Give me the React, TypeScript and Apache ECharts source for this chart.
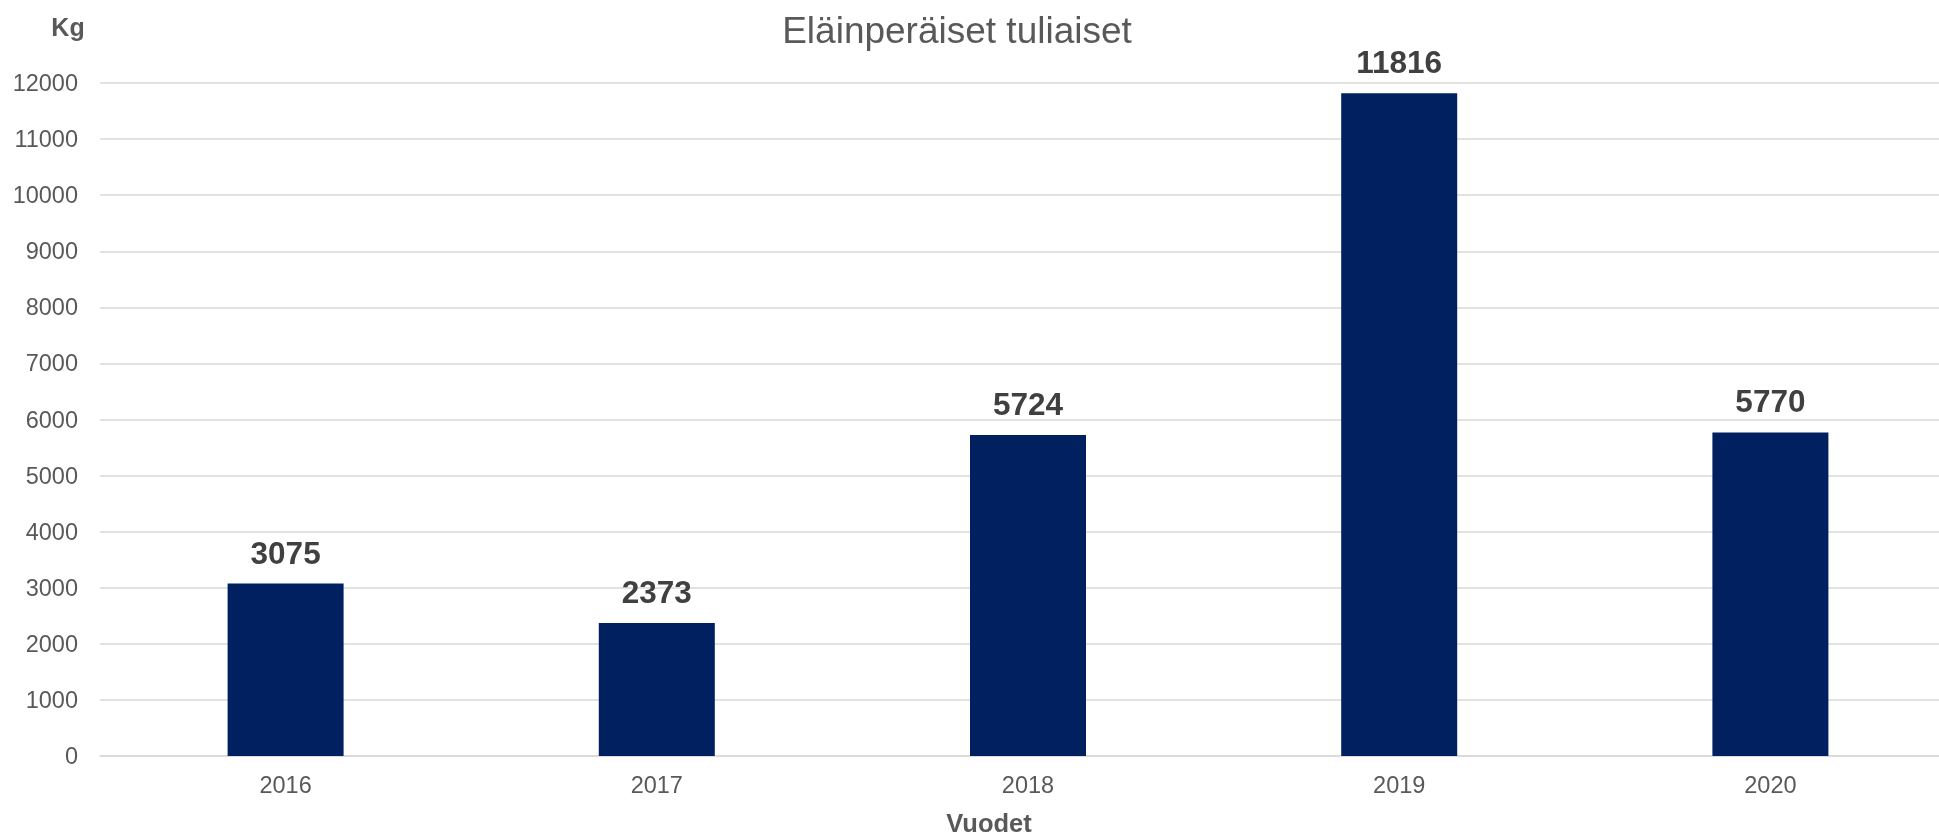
import React, { useEffect, useRef } from "react";
import * as echarts from "echarts";

const categories = ["2016", "2017", "2018", "2019", "2020"];
const values = [3075, 2373, 5724, 11816, 5770];
const titleText = "Eläinperäiset tuliaiset";
const yName = "Kg";
const xName = "Vuodet";

const FONT = "'Liberation Sans', Arial, sans-serif";

export default function App() {
  const ref = useRef<HTMLDivElement>(null);
  useEffect(() => {
    if (!ref.current) return;
    const chart = echarts.init(ref.current, undefined, { renderer: "svg" });
    chart.setOption({
      animation: false,
      textStyle: { fontFamily: FONT },
      graphic: [
        {
          type: "text",
          x: 957,
          y: 30,
          style: {
            text: titleText,
            fontSize: 37,
            fill: "#595959",
            fontFamily: FONT,
            textAlign: "center",
            textVerticalAlign: "middle",
          },
        },
        {
          type: "text",
          x: 68,
          y: 27,
          style: {
            text: yName,
            fontSize: 25,
            fontWeight: "bold",
            fill: "#595959",
            fontFamily: FONT,
            textAlign: "center",
            textVerticalAlign: "middle",
          },
        },
        {
          type: "text",
          x: 989,
          y: 823,
          style: {
            text: xName,
            fontSize: 25.5,
            fontWeight: "bold",
            fill: "#595959",
            fontFamily: FONT,
            textAlign: "center",
            textVerticalAlign: "middle",
          },
        },
      ],
      grid: { left: 100, top: 83, width: 1856, height: 673, containLabel: false },
      xAxis: {
        type: "category",
        data: categories,
        axisTick: { show: false },
        axisLine: { lineStyle: { color: "#d9d9d9", width: 1.5 } },
        axisLabel: { fontSize: 23.5, color: "#595959", margin: 17, fontFamily: FONT },
      },
      yAxis: {
        type: "value",
        min: 0,
        max: 12000,
        interval: 1000,
        axisLine: { show: false },
        axisTick: { show: false },
        splitLine: { lineStyle: { color: "#d9d9d9", width: 1.5 } },
        axisLabel: {
          fontSize: 23.5,
          color: "#595959",
          margin: 22,
          fontFamily: FONT,
          formatter: (v: number) => String(v),
        },
      },
      series: [
        {
          type: "bar",
          data: values,
          barWidth: 116,
          itemStyle: { color: "#002060" },
          label: {
            show: true,
            position: "top",
            distance: 15,
            fontSize: 31.5,
            fontWeight: "bold",
            color: "#404040",
            fontFamily: FONT,
          },
        },
      ],
    });
    return () => chart.dispose();
  }, []);
  return (
    <div style={{ position: "fixed", left: 0, top: 0, width: 1939, height: 839, overflow: "hidden" }}>
      <div ref={ref} style={{ width: 1960, height: 839 }} />
    </div>
  );
}
